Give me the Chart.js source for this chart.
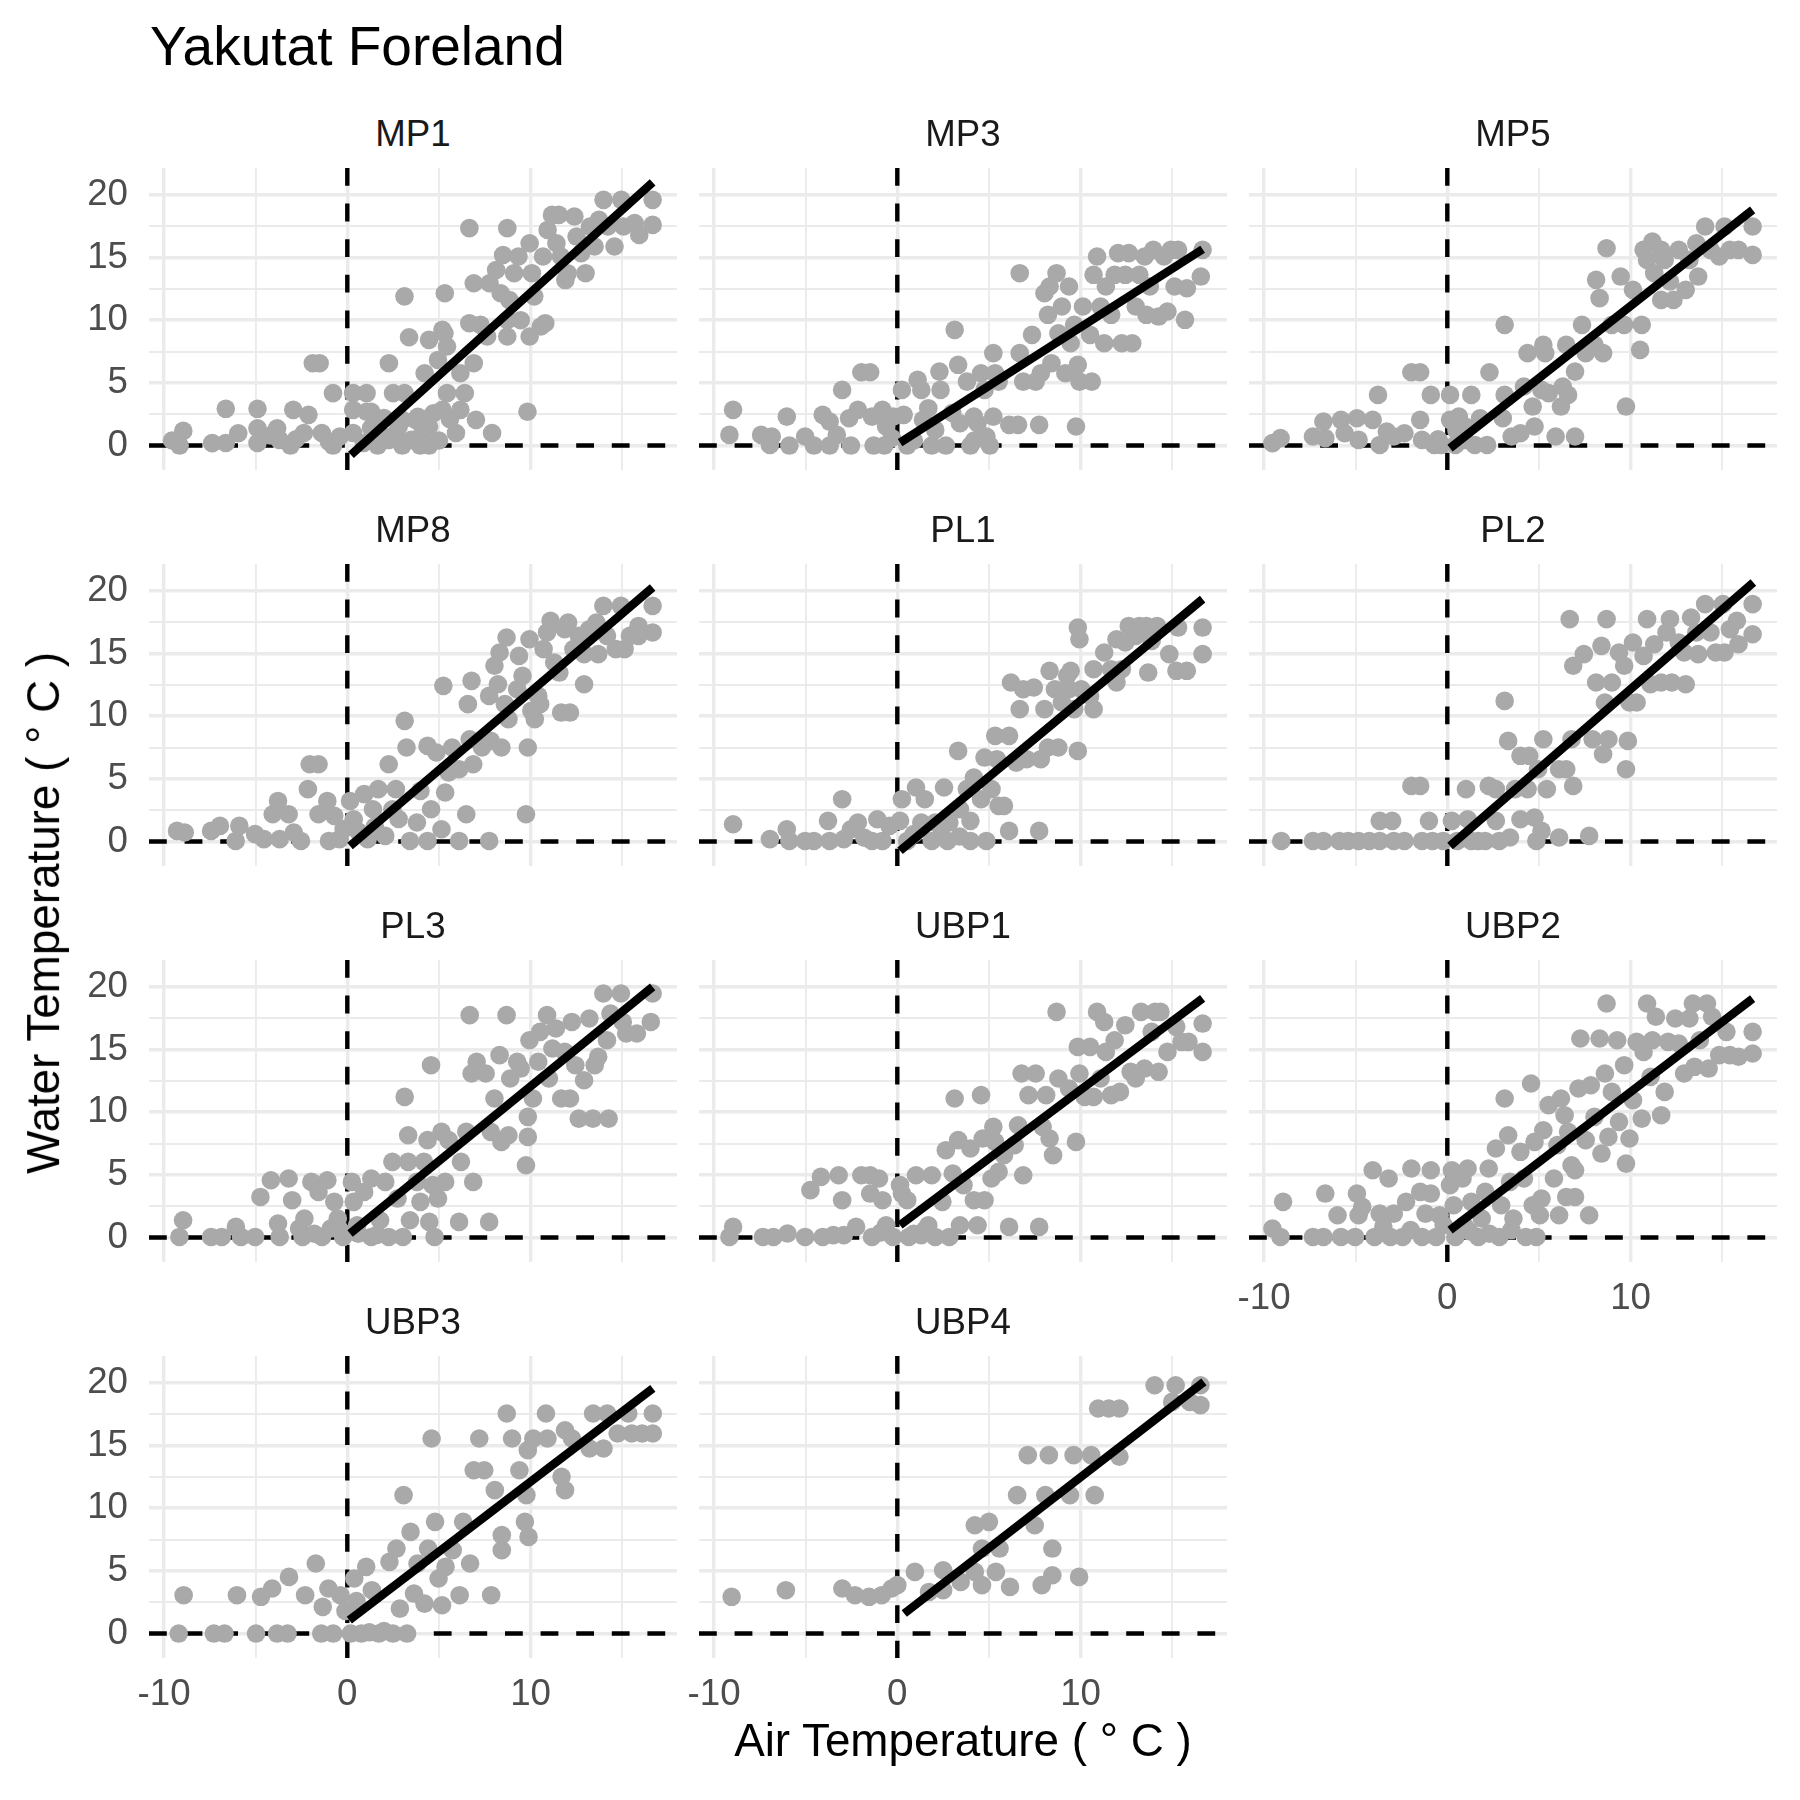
<!DOCTYPE html>
<html><head><meta charset="utf-8">
<script src="https://cdn.jsdelivr.net/npm/chart.js@4.4.1/dist/chart.umd.min.js"></script>
<style>
html,body{margin:0;padding:0;background:#fff;}
#fig{position:relative;width:1800px;height:1800px;background:#fff;overflow:hidden;font-family:'Liberation Sans',Arial,sans-serif;}
#fig canvas{position:absolute;}
.t{position:absolute;white-space:nowrap;line-height:1;}
</style></head><body><div id="fig"></div>
<script>
// ---------------- data ----------------
const titleText = 'Yakutat Foreland';
const xTitle = 'Air Temperature ( \u00B0 C )';
const yTitle = 'Water Temperature ( \u00B0 C )';
const siteNames = ['MP1','MP3','MP5','MP8','PL1','PL2','PL3','UBP1','UBP2','UBP3','UBP4'];
const xTicks = [-10,-5,0,5,10,15];
const xTickLabels = ['-10','','0','','10',''];
const yTicks = [0,2.5,5,7.5,10,12.5,15,17.5,20];
const yTickLabels = ['0','','5','','10','','15','','20'];
const xLimits = [-10.82, 17.99];
const yLimits = [-1.95, 22.14];

// [air temperature, water temperature]
const MP1 = [[-9.56,0.4],[-8.95,1.17],[-9.15,0],[-7.37,0.19],[-6.63,0.2],[-6.63,2.93],[-5.95,0.98],[-4.9,2.93],[-4.9,1.38],[-4.9,0.2],[-3.83,1.38],[-3.7,0.45],[-3.1,0],[-2.95,2.85],[-2.12,2.45],[-2.37,1],[-1.88,6.57],[-1.51,6.57],[-1.39,1],[-0.78,4.18],[-0.78,0],[-0.41,0.72],[0.32,1],[0.32,4.18],[0.32,2.85],[1.05,4.18],[1.3,2.7],[1.66,0],[2.27,6.57],[2.5,4.18],[3.12,11.9],[3.12,4.18],[3,0],[3.37,8.64],[3.98,0],[4.22,5.77],[4.46,8.43],[4.46,0],[4.7,2.58],[4.95,6.83],[5.19,2.85],[5.44,4.18],[5.32,12.15],[5.19,9.23],[5.3,8.96],[5.44,7.9],[5.93,1],[6.17,5.77],[6.41,4.18],[6.17,2.85],[6.66,9.76],[6.66,17.34],[6.9,12.95],[6.9,6.57],[7.02,2.05],[7.27,9.63],[7.63,8.7],[7.76,12.95],[7.9,1],[8.12,14],[8.37,12.15],[8.5,15.2],[8.73,17.34],[8.73,10],[8.73,8.7],[8.85,11.6],[9.1,13.75],[9.34,15.08],[9.46,10],[9.83,2.7],[9.95,8.7],[10.07,13.75],[10.2,11.9],[9.95,16.14],[10.56,9.5],[10.8,9.76],[10.68,15.08],[10.93,17.2],[11.17,18.4],[11.54,18.4],[11.41,16.14],[11.66,15.08],[11.9,13.2],[12.02,13.75],[12.39,18.27],[12.51,16.67],[12.76,15.35],[13,13.75],[13.24,17.47],[13.49,15.88],[13.73,18],[13.98,19.6],[14.22,17.47],[14.58,15.88],[14.95,19.6],[15.07,17.47],[15.68,17.74],[15.93,16.8],[16.66,19.6],[16.66,17.6],[1.78,1],[2.27,0.45],[3.49,0.45],[3.73,2.05],[4.46,1.5],[0.9,0.2],[2.0,2.2],[2.8,1.5],[5.0,0.4],[-2.8,0.5],[-1.0,0.3],[-4.2,0.8],[1.05,2.7],[1.78,2.05],[3.0,2.05],[3.85,2.3],[4.1,1.0],[2.6,0.9],[1.3,1.4],[5.6,2.1]];
const MP3 = [[-9.16,0.85],[-8.96,2.85],[-7.43,0.85],[-6.85,0.72],[-6.95,0.05],[-6.03,2.31],[-5.89,0],[-5.03,0.72],[-4.55,0],[-4.07,2.45],[-3.69,1.91],[-3.69,0],[-3.3,0.85],[-3.01,4.44],[-2.53,0],[-2.63,2.18],[-2.15,2.85],[-1.96,5.85],[-1.48,5.85],[-1.38,2.31],[-1.29,0],[-0.81,2.85],[-0.71,0],[-0.61,1.52],[-0.23,2.31],[0.25,4.44],[0.35,2.45],[0.54,0],[1.11,5.24],[1.31,4.44],[1.4,2.05],[1.69,2.98],[1.88,0],[2.07,1.25],[2.3,5.9],[2.36,4.44],[2.65,0],[3.13,9.23],[3.32,6.44],[3.42,1.78],[3.8,5.1],[3.99,0],[4.18,2.31],[4.38,1.78],[4.57,5.77],[4.76,4.44],[4.86,0.72],[5.05,0],[5.24,2.31],[5.24,7.37],[5.34,5.77],[5.53,5.1],[6.11,1.65],[6.59,1.65],[6.68,13.75],[6.68,7.37],[6.87,5.1],[7.35,8.83],[7.55,5.1],[7.74,1.65],[7.83,5.77],[8.03,12.15],[8.22,10.43],[8.31,12.69],[8.41,6.57],[8.69,13.75],[8.79,8.96],[8.98,11.09],[9.17,5.77],[9.37,12.69],[9.46,8.16],[9.65,9.63],[9.75,1.52],[9.85,6.44],[9.94,5.1],[10.13,11.09],[10.52,8.83],[10.61,5.1],[10.71,13.62],[10.9,15.08],[11.09,11.09],[11.29,8.16],[11.38,12.69],[11.67,10.43],[11.86,13.62],[12.05,15.35],[12.25,8.16],[12.44,13.62],[12.63,15.35],[12.82,8.16],[13.01,11.09],[13.21,13.62],[13.5,15.08],[13.59,10.43],[13.78,12.69],[13.97,15.61],[14.26,10.29],[14.55,15.08],[14.74,10.69],[14.93,15.61],[15.13,12.69],[15.32,15.61],[15.7,10.03],[15.8,12.55],[16.56,13.48],[16.66,15.61],[-0.3,0.6],[0.9,0.4],[3.0,2.6],[4.2,0.4]];
const MP5 = [[-9.54,0.19],[-9.1,0.59],[-7.33,0.72],[-6.76,1.91],[-6.66,0.59],[-5.8,2.05],[-5.6,0.98],[-4.93,2.18],[-4.84,0.45],[-4.07,2.05],[-3.78,4.04],[-3.69,0.05],[-3.3,1.12],[-2.92,0.72],[-2.34,0.98],[-1.96,5.85],[-1.48,5.85],[-1.48,2.05],[-1.38,0.45],[-0.9,4.04],[-0.71,0.05],[-0.33,0.05],[0.15,4.04],[0.15,2.05],[0.44,0.05],[0.63,2.31],[0.92,0.45],[1.31,4.04],[1.5,0.05],[1.79,2.18],[2.17,0.05],[2.3,5.85],[3.03,2.18],[3.13,4.04],[3.13,9.63],[3.51,0.72],[3.99,0.98],[4.18,4.71],[4.38,7.37],[4.66,3.11],[4.76,1.52],[5.14,4.44],[5.24,8.03],[5.34,7.37],[5.53,4.18],[5.91,0.72],[6.2,3.11],[6.3,4.71],[6.49,8.03],[6.59,4.04],[6.97,0.72],[6.97,5.9],[7.35,9.63],[7.55,7.37],[8.03,8.03],[8.12,13.22],[8.31,11.76],[8.5,7.37],[8.69,15.74],[8.98,9.63],[9.46,13.48],[9.65,9.63],[9.75,3.11],[10.13,12.42],[10.52,7.63],[10.61,9.63],[10.71,15.61],[10.9,14.81],[11.19,16.28],[11.29,13.75],[11.67,11.62],[11.67,15.61],[11.86,14.81],[12.15,13.09],[12.34,11.62],[12.63,15.61],[13.01,12.42],[13.21,14.81],[13.59,16.14],[13.69,13.48],[14.07,17.47],[14.36,15.61],[14.84,15.08],[15.13,17.47],[15.42,15.61],[15.89,15.61],[16.66,17.47],[16.66,15.21],[0.5,1.2],[1.0,1.5],[-0.5,0.5]];
const MP8 = [[-9.29,0.85],[-8.87,0.72],[-7.43,0.85],[-6.95,1.25],[-6.09,0.05],[-5.89,1.25],[-5.03,0.59],[-4.55,0.19],[-4.07,2.18],[-3.78,3.24],[-3.69,0.19],[-3.2,2.18],[-2.92,0.72],[-2.53,0.05],[-2.15,4.18],[-2.05,6.17],[-1.57,6.17],[-1.57,2.18],[-1.09,3.24],[-1.0,0.05],[-0.71,2.05],[-0.42,0.19],[0.15,3.24],[0.35,1.78],[0.92,3.78],[1.11,0.19],[1.4,2.58],[1.69,4.18],[2.07,0.45],[2.26,6.17],[2.46,2.58],[2.65,4.18],[3.13,9.63],[3.23,7.5],[3.42,0.05],[3.8,1.52],[3.99,4.04],[4.38,0.05],[4.38,7.63],[4.57,2.58],[4.86,7.1],[5.14,0.98],[5.24,12.42],[5.34,3.91],[5.53,5.51],[5.72,7.5],[6.1,0.05],[6.1,5.77],[6.49,2.18],[6.58,10.96],[6.68,8.16],[6.78,12.82],[6.87,6.17],[7.35,7.5],[7.74,0.05],[7.74,11.62],[7.83,8.03],[8.03,14.02],[8.22,12.55],[8.31,15.08],[8.41,7.5],[8.6,10.96],[8.69,16.28],[8.79,9.76],[9.27,12.15],[9.37,14.81],[9.56,13.22],[9.75,2.18],[9.85,7.5],[9.94,16.14],[10.04,10.43],[10.23,9.76],[10.42,11.62],[10.52,10.96],[10.71,15.35],[10.9,16.68],[11.09,17.61],[11.29,14.28],[11.57,13.48],[11.67,10.29],[11.86,16.94],[12.05,17.47],[12.15,10.29],[12.34,15.35],[12.63,16.41],[12.92,12.55],[12.92,14.95],[13.21,16.94],[13.59,17.47],[13.69,14.95],[13.97,18.8],[14.17,16.41],[14.65,15.35],[14.93,18.8],[15.13,15.35],[15.42,16.41],[15.89,17.2],[15.89,16.41],[16.66,18.8],[16.66,16.68],[0.6,0.8],[1.5,1.2],[2.8,1.8],[-0.2,1.0]];
const PL1 = [[-8.96,1.38],[-6.95,0.19],[-6.03,0.98],[-5.89,0.05],[-5.03,0.05],[-4.55,0.05],[-3.78,1.65],[-3.69,0.05],[-3.01,3.38],[-2.92,0.19],[-2.53,0.98],[-2.15,1.52],[-1.38,0.05],[-1.09,1.78],[-0.81,0.05],[-0.42,1.25],[0.15,1.65],[0.25,3.38],[0.54,0.05],[1.02,4.31],[1.31,1.52],[1.5,3.38],[1.88,0.05],[2.07,1.52],[2.55,4.31],[2.74,0.05],[2.84,1.52],[3.32,7.23],[3.42,2.58],[3.8,4.18],[3.99,0.05],[3.99,1.65],[4.18,5.1],[4.57,3.38],[4.76,6.7],[4.86,0.05],[5.14,4.18],[5.34,8.43],[5.43,6.57],[5.53,2.85],[5.82,2.85],[6.1,8.43],[6.1,0.85],[6.2,12.69],[6.49,6.3],[6.68,10.56],[6.87,12.15],[7.06,6.57],[7.45,12.29],[7.74,0.85],[7.83,6.57],[8.03,10.56],[8.22,7.5],[8.31,13.62],[8.6,12.15],[8.79,7.5],[8.98,11.09],[9.27,13.22],[9.37,12.15],[9.46,13.62],[9.65,10.56],[9.85,17.07],[9.94,16.14],[9.85,7.23],[10.04,12.15],[10.52,11.62],[10.71,10.56],[10.71,13.75],[11.29,15.08],[11.67,13.75],[11.96,12.69],[11.96,16.14],[12.25,13.75],[12.44,15.88],[12.63,17.2],[13.01,16.41],[13.21,17.2],[13.59,17.2],[13.69,13.48],[13.88,16.01],[14.17,17.2],[14.84,14.95],[15.23,13.62],[15.32,17.07],[15.8,13.62],[16.66,17.07],[16.66,14.95],[0.9,0.6],[2.4,0.5],[3.4,0.4],[-1.8,0.3]];
const PL2 = [[-9.06,0.05],[-7.33,0.05],[-6.76,0.05],[-5.89,0.05],[-5.41,0.05],[-4.84,0.05],[-4.26,0.05],[-3.69,1.65],[-3.69,0.05],[-3.01,1.65],[-2.92,0.05],[-2.34,0.05],[-1.96,4.44],[-1.48,4.44],[-1.38,0.05],[-1.0,1.65],[-0.81,0.05],[-0.23,0.05],[0.25,1.65],[0.54,0.05],[1.02,4.18],[1.11,1.78],[1.31,0.05],[1.69,0.05],[2.26,4.44],[2.65,4.18],[2.65,1.65],[2.07,0.05],[2.84,0.05],[3.13,11.22],[3.32,8.03],[3.42,0.32],[3.7,4.18],[3.99,1.78],[3.99,6.84],[4.38,4.18],[4.47,6.84],[4.76,1.91],[4.86,0.05],[4.95,5.77],[5.14,0.85],[5.24,8.16],[5.43,4.18],[6.1,0.32],[6.1,5.77],[6.49,5.77],[6.68,17.74],[6.78,8.16],[6.87,4.44],[6.87,14.02],[7.45,14.95],[7.74,0.45],[7.93,8.16],[8.12,12.69],[8.41,15.61],[8.5,6.97],[8.6,11.09],[8.69,17.74],[8.79,8.16],[8.98,12.69],[9.37,15.08],[9.65,14.02],[9.75,5.77],[9.85,8.03],[9.94,11.09],[10.13,15.88],[10.33,11.09],[10.71,14.81],[10.9,17.74],[11.09,12.55],[11.29,15.74],[11.67,12.69],[11.96,16.68],[12.15,17.74],[12.25,12.69],[12.63,15.88],[12.92,15.08],[13.01,12.55],[13.3,17.87],[13.59,16.68],[13.69,14.95],[14.07,18.94],[14.36,16.68],[14.65,15.08],[15.04,18.94],[15.13,15.08],[15.42,16.94],[15.8,17.61],[15.89,15.74],[16.66,18.94],[16.66,16.54]];
const PL3 = [[-9.16,0.05],[-8.96,1.38],[-7.43,0.05],[-6.85,0.05],[-6.08,0.85],[-5.8,0.05],[-5.03,0.05],[-4.74,3.24],[-4.17,4.57],[-3.78,1.12],[-3.69,0.05],[-3.2,4.71],[-3.01,2.98],[-2.63,0.72],[-2.34,1.52],[-2.44,0.05],[-1.96,4.44],[-1.57,3.64],[-1.38,0.05],[-1.09,4.57],[-0.9,0.72],[-0.71,2.85],[-0.52,1.52],[-0.23,0.05],[0.25,4.44],[0.35,2.85],[0.54,0.98],[0.92,3.64],[1.31,4.71],[1.31,0.05],[1.79,1.38],[2.07,4.44],[2.26,0.05],[2.46,6.04],[2.74,3.11],[3.03,0.05],[3.13,11.22],[3.32,8.16],[3.32,6.04],[3.42,1.38],[3.8,4.44],[3.99,2.85],[4.18,6.04],[4.38,7.77],[4.47,1.25],[4.57,13.75],[4.66,4.18],[4.76,0.05],[4.95,3.11],[5.14,8.43],[5.34,4.44],[5.53,7.77],[6.1,1.25],[6.2,6.04],[6.49,8.43],[6.68,17.74],[6.78,13.09],[6.87,4.44],[7.06,14.02],[7.55,13.09],[7.74,1.25],[7.83,8.43],[8.03,11.09],[8.31,14.55],[8.41,7.63],[8.69,17.74],[8.79,8.16],[8.89,12.69],[9.27,14.02],[9.46,13.48],[9.75,5.77],[9.85,8.03],[9.85,9.63],[9.94,15.74],[10.13,11.09],[10.42,14.02],[10.52,16.41],[10.9,17.74],[11.0,12.69],[11.19,15.08],[11.38,16.68],[11.67,11.09],[11.86,14.81],[12.15,11.09],[12.25,17.2],[12.44,13.75],[12.63,9.49],[12.92,12.55],[13.21,17.47],[13.4,9.49],[13.5,13.75],[13.69,14.42],[13.97,19.47],[14.17,15.74],[14.26,9.49],[14.36,17.87],[14.93,19.47],[15.03,17.2],[15.22,16.28],[15.8,16.28],[16.56,17.2],[16.66,19.47],[-0.4,0.6],[0.6,0.3],[1.6,0.2],[-1.8,0.3]];
const UBP1 = [[-9.16,0.05],[-8.96,0.85],[-7.33,0.05],[-6.76,0.05],[-5.99,0.32],[-5.03,0.05],[-4.74,3.78],[-4.17,4.84],[-4.07,0.05],[-3.49,0.19],[-3.2,4.97],[-3.01,2.98],[-2.92,0.19],[-2.25,0.85],[-1.96,4.97],[-1.48,4.97],[-1.48,3.51],[-1.38,0.05],[-1.0,4.71],[-0.81,2.98],[-0.61,0.98],[-0.23,0.05],[0.15,4.18],[0.25,3.51],[0.54,2.98],[0.63,0.05],[1.02,4.97],[1.31,0.19],[1.69,0.98],[1.88,4.97],[2.07,0.05],[2.46,2.85],[2.65,6.97],[2.84,0.05],[3.03,5.11],[3.13,11.09],[3.32,7.77],[3.42,0.98],[3.61,4.18],[3.99,7.1],[4.18,2.98],[4.38,0.98],[4.57,11.36],[4.66,7.9],[4.76,2.98],[5.14,4.71],[5.24,8.83],[5.34,7.63],[5.53,5.24],[5.82,6.57],[6.1,0.85],[6.4,7.37],[6.59,8.96],[6.78,13.09],[6.87,4.97],[7.16,11.36],[7.55,13.09],[7.74,0.85],[7.93,8.83],[8.12,11.36],[8.31,7.9],[8.5,6.57],[8.69,18.0],[8.79,12.69],[9.37,11.89],[9.75,7.63],[9.85,15.21],[9.94,13.09],[10.23,11.22],[10.52,15.21],[10.71,11.22],[10.9,18.0],[11.09,12.69],[11.29,17.2],[11.38,14.81],[11.67,11.36],[11.86,15.74],[12.15,11.62],[12.44,16.94],[12.73,13.22],[13.01,12.69],[13.3,18.0],[13.49,13.48],[13.88,16.41],[14.07,18.0],[14.26,13.22],[14.36,18.0],[14.74,14.81],[15.22,16.81],[15.51,15.61],[15.89,15.61],[16.66,17.07],[16.66,14.81],[-0.9,0.4],[0.9,0.3],[1.5,0.6]];
const UBP2 = [[-9.54,0.72],[-9.1,0.05],[-8.96,2.85],[-7.33,0.05],[-6.76,0.05],[-6.66,3.51],[-5.99,1.78],[-5.8,0.05],[-5.03,0.05],[-4.93,3.51],[-4.84,1.78],[-4.64,2.45],[-4.07,5.37],[-3.97,0.05],[-3.69,1.91],[-3.49,0.85],[-3.2,4.71],[-3.1,0.05],[-2.92,1.91],[-2.44,0.05],[-2.25,2.85],[-1.96,5.51],[-1.48,3.64],[-1.38,0.05],[-1.19,1.91],[-0.9,5.37],[-0.9,3.51],[-0.61,0.05],[-0.42,1.78],[0.15,4.18],[0.25,5.37],[0.35,2.58],[0.44,0.05],[0.83,4.71],[0.92,0.98],[1.11,5.51],[1.31,2.85],[1.69,0.05],[1.88,1.52],[2.07,3.64],[2.26,5.51],[2.65,7.1],[2.84,0.05],[2.94,2.58],[3.13,11.09],[3.32,8.16],[3.42,4.44],[3.61,1.52],[3.99,6.84],[4.18,4.71],[4.28,0.05],[4.57,12.29],[4.66,2.58],[4.76,7.63],[4.86,0.05],[5.05,1.78],[5.14,3.11],[5.24,8.56],[5.53,10.56],[5.82,4.71],[6.01,7.37],[6.1,1.78],[6.2,11.09],[6.4,9.76],[6.49,3.24],[6.59,8.43],[6.78,5.77],[6.97,5.37],[6.97,3.24],[7.16,11.89],[7.26,15.88],[7.55,7.77],[7.74,1.78],[7.83,12.15],[8.03,9.63],[8.31,15.88],[8.41,6.7],[8.6,13.09],[8.69,18.67],[8.79,8.03],[8.98,11.62],[9.27,15.74],[9.37,9.23],[9.65,13.75],[9.75,5.9],[9.94,7.9],[10.13,10.96],[10.33,15.61],[10.61,9.49],[10.71,14.81],[10.9,18.67],[11.09,12.82],[11.19,15.74],[11.38,17.61],[11.67,9.76],[11.86,11.62],[12.05,15.61],[12.44,17.47],[12.63,15.48],[12.92,13.09],[13.21,17.47],[13.4,18.67],[13.49,13.62],[13.78,15.74],[14.17,18.67],[14.26,13.48],[14.45,17.61],[14.84,14.55],[15.23,16.41],[15.42,14.55],[15.89,14.42],[16.66,16.41],[16.66,14.68],[-2.0,0.6],[-0.2,1.0],[1.2,0.5],[2.3,0.3],[3.5,0.6]];
const UBP3 = [[-9.2,0],[-8.93,3.06],[-7.28,0],[-6.7,0],[-6.02,3.06],[-4.98,0],[-4.71,2.93],[-4.1,3.59],[-3.83,0],[-3.26,0],[-3.18,4.52],[-2.3,3.06],[-1.72,5.59],[-1.42,0],[-1.34,2.13],[-1.03,3.59],[-0.77,0],[-0.38,3.06],[0.19,0],[0.38,4.39],[0.77,0],[1.03,5.32],[1.34,3.46],[1.72,0],[2.3,5.72],[2.49,0],[2.68,6.78],[2.87,1.99],[3.07,11.04],[3.26,0],[3.45,8.11],[3.64,3.19],[3.83,5.59],[4.21,2.39],[4.41,6.78],[4.6,15.56],[4.79,8.91],[4.98,4.39],[5.17,2.26],[5.36,5.32],[5.75,6.65],[6.13,3.06],[6.32,8.91],[6.9,13.03],[6.7,5.59],[7.2,15.56],[7.47,13.03],[7.85,3.06],[8.05,11.44],[8.43,6.65],[8.43,7.85],[8.7,17.55],[8.99,15.56],[9.39,13.03],[9.69,8.91],[9.77,11.04],[9.89,7.71],[9.85,14.63],[10.15,15.56],[10.84,17.55],[10.92,15.56],[11.69,12.5],[11.88,11.44],[11.88,16.22],[12.26,15.56],[13.22,14.76],[13.41,17.55],[13.98,14.76],[14.18,17.55],[14.75,15.96],[15.33,17.55],[15.52,15.96],[16.09,15.96],[16.67,17.55],[16.67,15.96],[-0.1,1.8],[0.5,2.6],[1.2,0.1],[2.0,0.2]];
const UBP4 = [[-9.04,2.93],[-6.08,3.46],[-3.0,3.59],[-2.31,3.06],[-1.54,2.93],[-0.85,3.06],[-0.31,3.59],[0,3.86],[0.96,4.92],[1.73,3.32],[2.5,5.05],[2.5,3.46],[3.46,4.12],[4.23,8.64],[4.23,4.92],[4.62,3.86],[5.0,8.91],[4.62,6.78],[5.38,4.92],[5.58,6.78],[6.15,3.72],[6.54,11.04],[7.12,14.23],[7.5,8.64],[7.88,3.86],[8.08,11.04],[8.27,14.23],[8.46,6.78],[8.46,4.65],[9.42,11.04],[9.62,14.23],[9.92,4.52],[10.58,14.23],[10.77,11.04],[10.96,17.95],[11.54,17.95],[12.12,17.95],[12.12,14.1],[14.04,19.81],[15.0,18.48],[15.19,19.81],[15.96,18.48],[16.54,19.81],[16.54,18.22]];
const sitePoints = [MP1, MP3, MP5, MP8, PL1, PL2, PL3, UBP1, UBP2, UBP3, UBP4];

// fitted lines (water = intercept + slope * air) over the air-temperature span
const fitIntercept = [-1.0, 0.10, -0.38, -0.54, -0.92, -0.54, 0.14, 0.82, 0.42, 0.94, 1.17];
const fitSlope     = [1.32, 0.934, 1.151, 1.249, 1.216, 1.27, 1.192, 1.096, 1.119, 1.117, 1.13];
const fitStart     = [0.2, 0.15, 0.15, 0.15, 0.15, 0.15, 0.15, 0.15, 0.15, 0.11, 0.38];
const fitEnd       = [16.66, 16.66, 16.66, 16.66, 16.66, 16.7, 16.66, 16.66, 16.66, 16.67, 16.73];

// ---------------- layout / style ----------------
const PLOT_L = [149, 699, 1249], PLOT_W = 528;
const PLOT_T = [168, 564, 960, 1356], PLOT_H = 302;
const AX_L = 120, AX_B = 70, PAD = 10;
const FONT = "'Liberation Sans', Arial, Helvetica, sans-serif";
const GRID = '#EBEBEB', POINT = '#A9A9A9';
const TICK_SIZE = 36.7, STRIP_SIZE = 36.7, TITLE_SIZE = 55, AXTITLE_SIZE = 45.8;
const fig = document.getElementById('fig');

function addText(txt, css) {
  const d = document.createElement('div');
  d.className = 't';
  d.textContent = txt;
  Object.assign(d.style, css);
  fig.appendChild(d);
  return d;
}

siteNames.forEach((name, i) => {
  const r = Math.floor(i / 3), c = i % 3;
  const W = AX_L + PLOT_W + PAD, H = PAD + PLOT_H + AX_B;
  const cv = document.createElement('canvas');
  cv.width = W; cv.height = H;
  cv.style.left = (PLOT_L[c] - AX_L) + 'px';
  cv.style.top = (PLOT_T[r] - PAD) + 'px';
  cv.style.width = W + 'px'; cv.style.height = H + 'px';
  fig.appendChild(cv);
  const showX = (i + 3 >= siteNames.length);
  const showY = (c === 0);

  const pts = sitePoints[i].map(p => ({x: p[0], y: p[1]}));
  const fit = [fitStart[i], fitEnd[i]].map(x => ({x: x, y: fitIntercept[i] + fitSlope[i] * x}));

  new Chart(cv.getContext('2d'), {
    type: 'scatter',
    data: { datasets: [
      { data: [{x: 0, y: yLimits[1]}, {x: 0, y: yLimits[0]}], showLine: true, borderColor: '#000', borderWidth: 4.4, borderDash: [17.8, 17.8], pointRadius: 0, order: 3 },
      { data: [{x: xLimits[0], y: 0}, {x: xLimits[1], y: 0}], showLine: true, borderColor: '#000', borderWidth: 4.4, borderDash: [17.8, 17.8], pointRadius: 0, order: 3 },
      { data: pts, backgroundColor: POINT, borderWidth: 0, pointRadius: 9.3, pointHoverRadius: 9.3, order: 2 },
      { data: fit, showLine: true, borderColor: '#000', borderWidth: 8.5, borderCapStyle: 'butt', pointRadius: 0, order: 1 }
    ]},
    options: {
      responsive: false, maintainAspectRatio: false, animation: false, events: [],
      layout: { padding: { top: PAD, right: PAD, left: 0, bottom: 0 } },
      plugins: { legend: { display: false }, tooltip: { enabled: false }, title: { display: false } },
      scales: {
        x: {
          type: 'linear', min: xLimits[0], max: xLimits[1], bounds: 'data',
          afterBuildTicks: s => { s.ticks = xTicks.map(v => ({value: v})); },
          afterFit: s => { s.height = AX_B; s.paddingLeft = 0; s.paddingRight = 0; s.paddingTop = 0; s.paddingBottom = 0; },
          grid: { color: GRID, lineWidth: ctx => (ctx.tick && ctx.tick.value % 10 === 0) ? 3.4 : 1.9, drawTicks: false },
          border: { display: false },
          ticks: { display: showX, autoSkip: false, maxRotation: 0, padding: 15, color: '#4D4D4D',
                   font: { family: FONT, size: TICK_SIZE }, callback: (v, idx) => xTickLabels[idx] }
        },
        y: {
          type: 'linear', min: yLimits[0], max: yLimits[1], bounds: 'data',
          afterBuildTicks: s => { s.ticks = yTicks.map(v => ({value: v})); },
          afterFit: s => { s.width = AX_L; s.paddingLeft = 0; s.paddingRight = 0; s.paddingTop = 0; s.paddingBottom = 0; },
          grid: { color: GRID, lineWidth: ctx => (ctx.tick && ctx.tick.value % 5 === 0) ? 3.4 : 1.9, drawTicks: false },
          border: { display: false },
          ticks: { display: showY, autoSkip: false, padding: 21, color: '#4D4D4D',
                   font: { family: FONT, size: TICK_SIZE }, callback: (v, idx) => yTickLabels[idx] }
        }
      }
    }
  });

  addText(name, { left: PLOT_L[c] + 'px', width: PLOT_W + 'px', textAlign: 'center',
                  top: (PLOT_T[r] - 52) + 'px', fontSize: STRIP_SIZE + 'px', color: '#1A1A1A' });
});

addText(titleText, { left: '150px', top: '19px', fontSize: TITLE_SIZE + 'px', color: '#000' });
addText(xTitle, { left: PLOT_L[0] + 'px', width: (PLOT_L[2] + PLOT_W - PLOT_L[0]) + 'px', textAlign: 'center',
                  top: '1718px', fontSize: AXTITLE_SIZE + 'px', color: '#000' });
const yMid = (PLOT_T[0] + PLOT_T[3] + PLOT_H) / 2;
addText(yTitle, { left: (44 - 500) + 'px', width: '1000px', textAlign: 'center', height: AXTITLE_SIZE + 'px',
                  top: (yMid - AXTITLE_SIZE / 2) + 'px', fontSize: AXTITLE_SIZE + 'px', color: '#000', transform: 'rotate(-90deg)' });
</script></body></html>
